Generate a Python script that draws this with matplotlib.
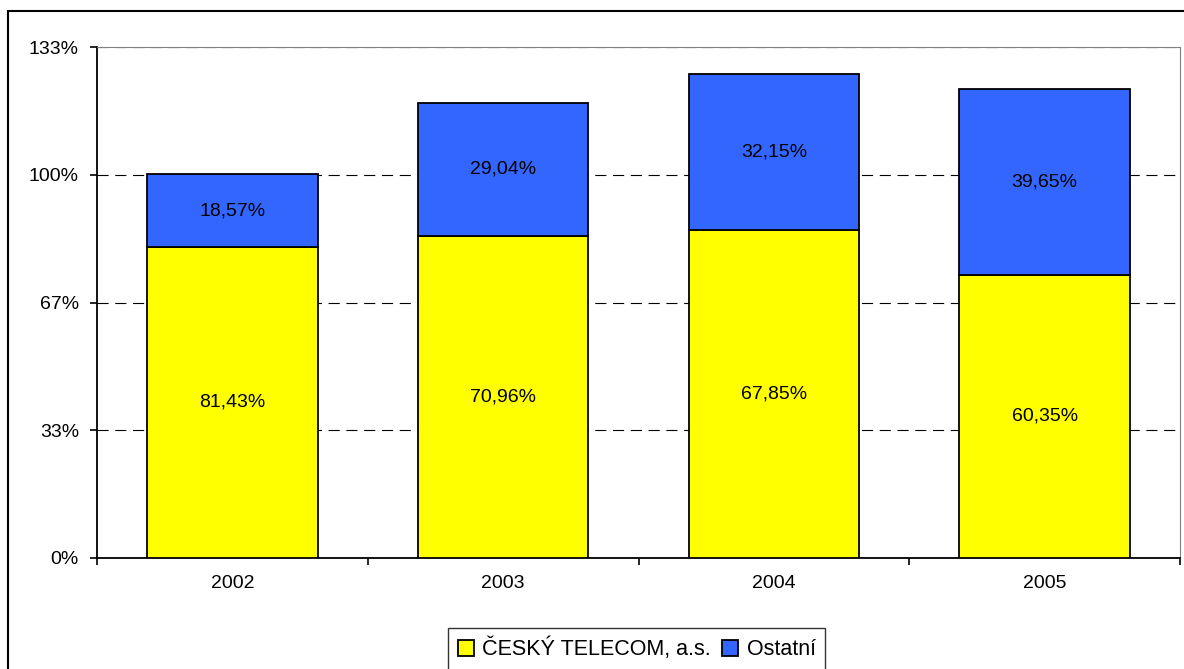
import matplotlib.pyplot as plt
import matplotlib.patches as mpatches
import numpy as np

plt.rcParams["font.family"] = ["Liberation Sans", "DejaVu Sans"]

# Data
years = ["2002", "2003", "2004", "2005"]
telecom_height = [81.2, 84.1, 85.5, 73.9]
other_height = [18.9, 34.7, 40.9, 48.6]
telecom_labels = ["81,43%", "70,96%", "67,85%", "60,35%"]
other_labels = ["18,57%", "29,04%", "32,15%", "39,65%"]
y_ticks = [0, 100 / 3, 200 / 3, 100, 400 / 3]
y_tick_labels = ["0%", "33%", "67%", "100%", "133%"]

fig = plt.figure(figsize=(11.84, 6.69), dpi=100)
ax = fig.add_axes([97 / 1184, 111 / 669, 1083 / 1184, 511 / 669])

x = np.arange(len(years))
bars1 = ax.bar(x, telecom_height, width=0.63, color="#FFFF00", edgecolor="black",
               linewidth=1.3, label="ČESKÝ TELECOM, a.s.", zorder=3)
bars2 = ax.bar(x, other_height, width=0.63, bottom=telecom_height, color="#3366FF",
               edgecolor="black", linewidth=1.3, label="Ostatní", zorder=3)

for i in range(len(years)):
    ax.text(x[i], telecom_height[i] / 2, telecom_labels[i], ha="center", va="center",
            fontsize=14, zorder=4)
    ax.text(x[i], telecom_height[i] + other_height[i] / 2, other_labels[i],
            ha="center", va="center", fontsize=14, zorder=4)

ax.set_xlim(-0.5, len(years) - 0.5)
ax.set_ylim(0, 400 / 3)
ax.set_yticks(y_ticks)
ax.set_yticklabels(y_tick_labels, fontsize=14)
ax.set_xticks(x)
ax.set_xticklabels(years, fontsize=14)
ax.set_xticks(np.arange(-0.5, len(years)), minor=True)
ax.tick_params(axis="x", which="major", length=0, pad=12)
ax.tick_params(axis="x", which="minor", length=5, direction="out", width=1.2)
ax.tick_params(axis="y", length=5, direction="out", width=1.2, pad=8)

ax.yaxis.grid(True, linestyle=(0, (10, 6)), color="black", linewidth=0.8, zorder=0)
ax.spines["left"].set_linewidth(1.3)
ax.spines["bottom"].set_linewidth(1.3)
ax.spines["top"].set_color("#808080")
ax.spines["right"].set_color("#808080")

# outer chart border
fig.patches.append(mpatches.Rectangle((8 / 1184, -0.1), 1.1, (669 - 11) / 669 + 0.1,
                                      transform=fig.transFigure, fill=False,
                                      edgecolor="black", linewidth=1.5))

leg = fig.legend(handles=[bars1, bars2], loc="upper left",
                 bbox_to_anchor=(448 / 1184, 1 - 628 / 669), ncol=2, fontsize=15.5,
                 frameon=True, fancybox=False, edgecolor="black", handlelength=0.75,
                 handleheight=0.75, handletextpad=0.4, columnspacing=0.5,
                 borderpad=0.45, borderaxespad=0)
leg.get_frame().set_linewidth(1.0)

fig.savefig("out.png", dpi=100)
